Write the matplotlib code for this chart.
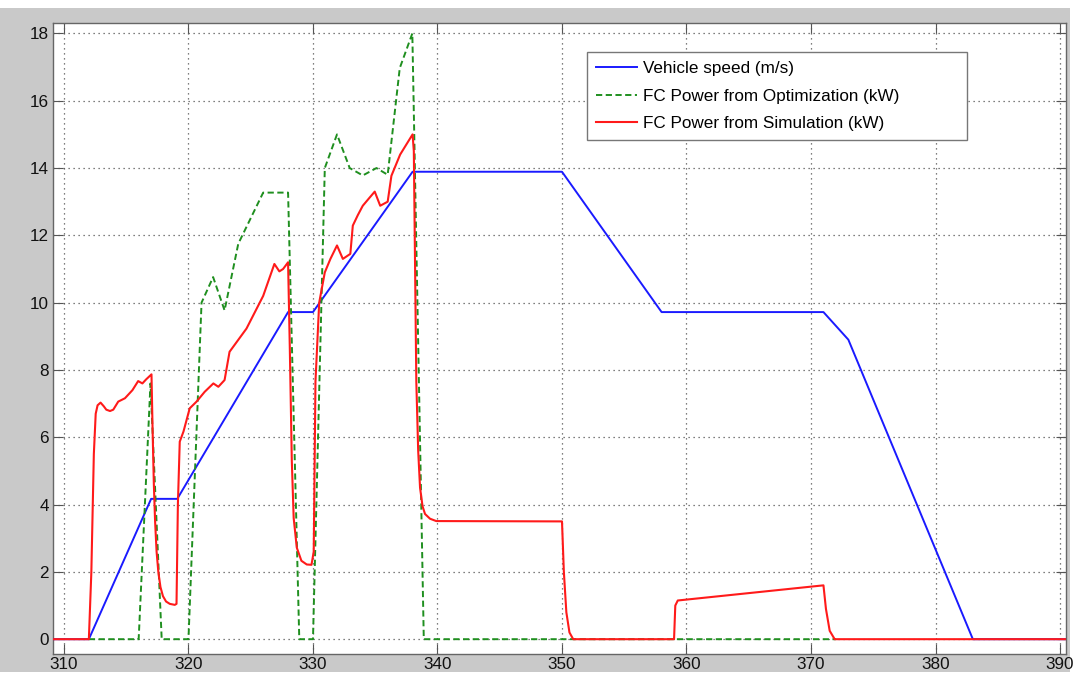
import matplotlib
matplotlib.use("Agg")
import matplotlib.pyplot as plt
from matplotlib.patches import Rectangle

# ---- data ----
t_speed = [309.2, 312.0, 317.0, 319.1, 328.0, 330.0, 338.0, 350.0, 358.0, 371.0, 373.0, 383.0, 391.0]
v_speed = [0.0, 0.0, 4.17, 4.17, 9.72, 9.72, 13.89, 13.89, 9.72, 9.72, 8.9, 0.0, 0.0]

t_opt = [312.0, 316.0, 316.95, 317.85, 320.0, 321.05, 321.98, 322.9, 324.0, 326.0, 328.0, 328.9,
         330.0, 330.95, 331.93, 332.95, 334.0, 335.1, 336.0, 336.97, 337.98, 338.9, 372.0]
p_opt = [0.0, 0.0, 7.6, 0.0, 0.0, 10.0, 10.76, 9.77, 11.75, 13.27, 13.27, 0.0,
         0.0, 14.0, 15.0, 14.0, 13.78, 14.0, 13.8, 16.97, 18.0, 0.0, 0.0]

t_sim = [309.2, 312.0, 312.2, 312.4, 312.55, 312.7, 312.94, 313.2, 313.4, 313.7, 313.96, 314.36,
         314.9, 315.5, 315.96, 316.3, 316.6, 317.03, 317.12, 317.22, 317.32, 317.44, 317.58,
         317.75, 317.95, 318.2, 318.5, 318.9, 319.04, 319.15, 319.3, 319.6, 320.1, 320.65,
         321.3, 322.0, 322.4, 322.9, 323.3, 324.66, 326.0, 326.9, 327.3, 327.6, 328.0,
         328.14, 328.3, 328.45, 328.7, 329.07, 329.5, 329.88, 330.06, 330.2, 330.5, 330.95,
         331.4, 331.93, 332.4, 333.0, 333.2, 333.6, 334.0, 334.5, 334.96, 335.4, 336.0,
         336.3, 337.0, 337.5, 338.0, 338.1, 338.3, 338.45, 338.6, 338.8, 339.0, 339.4,
         339.9, 350.0, 350.15, 350.35, 350.6, 350.9, 359.0, 359.1, 359.3, 371.0, 371.2,
         371.5, 371.9, 391.0]
p_sim = [0.0, 0.0, 2.0, 5.5, 6.7, 6.95, 7.03, 6.92, 6.82, 6.78, 6.82, 7.06,
         7.16, 7.4, 7.67, 7.6, 7.72, 7.87, 6.2, 4.6, 3.5, 2.6, 2.0,
         1.55, 1.28, 1.12, 1.05, 1.02, 1.05, 4.0, 5.87, 6.17, 6.86, 7.06,
         7.35, 7.6, 7.5, 7.7, 8.54, 9.23, 10.2, 11.15, 10.93, 11.0, 11.2,
         8.64, 5.3, 3.6, 2.72, 2.33, 2.22, 2.21, 2.6, 7.65, 10.0, 10.9,
         11.3, 11.7, 11.3, 11.45, 12.29, 12.6, 12.88, 13.1, 13.3, 12.88, 13.0,
         13.77, 14.4, 14.7, 15.0, 14.5, 7.65, 5.6, 4.5, 3.95, 3.72, 3.58,
         3.51, 3.5, 2.0, 0.8, 0.2, 0.0, 0.0, 1.0, 1.15, 1.6, 0.9,
         0.25, 0.0, 0.0]

labels = ["Vehicle speed (m/s)", "FC Power from Optimization (kW)", "FC Power from Simulation (kW)"]
x_ticks = list(range(310, 391, 10))
y_ticks = list(range(0, 19, 2))

# ---- figure ----
plt.rcParams['font.family'] = ['Liberation Sans', 'DejaVu Sans']
W, H = 1088, 675
fig = plt.figure(figsize=(W / 100, H / 100), dpi=100, facecolor='white')
fig.patches.append(Rectangle((0, 3 / H), 1070 / W, (H - 11) / H, transform=fig.transFigure,
                             facecolor='#c9c9c9', edgecolor='none', zorder=-10))

ax_l, ax_r, ax_t, ax_b = 53, 1066, 23, 654
ax = fig.add_axes([ax_l / W, 1 - ax_b / H, (ax_r - ax_l) / W, (ax_b - ax_t) / H])
ax.set_facecolor('white')

ax.plot(t_speed, v_speed, color='#1a1aff', lw=1.4, label=labels[0], zorder=3)
ax.plot(t_opt, p_opt, color='#1f8f1f', lw=1.4, ls=(0, (3.2, 1.8)), label=labels[1], zorder=3)
ax.plot(t_sim, p_sim, color='#ff1a1a', lw=1.5, label=labels[2], zorder=4)

ax.set_xlim(309.12, 390.48)
ax.set_ylim(-0.44, 18.31)
ax.set_xticks(x_ticks)
ax.set_yticks(y_ticks)
ax.grid(True, color='#555555', ls=(0, (1, 3)), lw=0.9)
ax.tick_params(direction='in', length=7, width=0.8, color='#555555', top=True, right=True,
               labelsize=12.3, labelcolor='#111111')
ax.tick_params(axis='y', pad=3)
ax.tick_params(axis='x', pad=2)
for s in ax.spines.values():
    s.set_color('#666666')
    s.set_linewidth(1.0)

aw, ah = ax_r - ax_l, ax_b - ax_t
leg_x0, leg_x1, leg_top, leg_bot = 587, 967, 52, 143
leg = ax.legend(loc='upper left',
                bbox_to_anchor=((leg_x0 - ax_l) / aw, (ax_b - leg_bot) / ah,
                                (leg_x1 - leg_x0) / aw, (leg_bot - leg_top) / ah),
                mode='expand', borderaxespad=0, fontsize=12.3, frameon=True, fancybox=False,
                edgecolor='#777777', framealpha=1, handlelength=2.4, handletextpad=0.35,
                labelspacing=0.72, borderpad=0.55)
leg.get_frame().set_linewidth(1.0)

fig.savefig('out.png', dpi=100, facecolor=fig.get_facecolor())
